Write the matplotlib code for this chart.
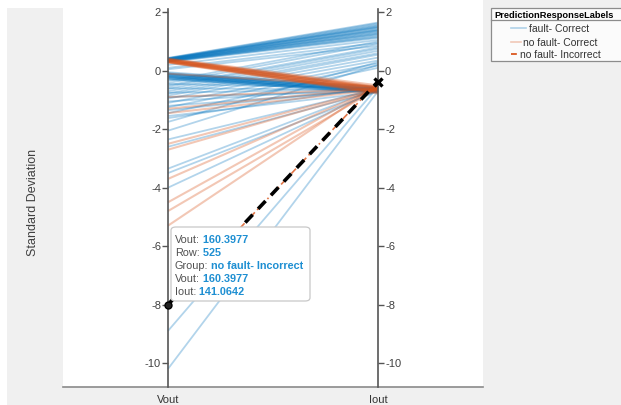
import matplotlib
matplotlib.use("Agg")
import matplotlib.pyplot as plt
from matplotlib.patches import Rectangle, FancyBboxPatch
from matplotlib.lines import Line2D
import matplotlib.transforms as mtrans

plt.rcParams['font.family'] = ['Liberation Sans', 'DejaVu Sans']

# ---------------- data ----------------
axis_names = ["Vout", "Iout"]
y_ticks = [2, 0, -2, -4, -6, -8, -10]

# fault- Correct (blue)
fault_correct_vout = [0.44, 0.43, 0.42, 0.41, 0.40, 0.40, 0.39, 0.38, 0.37, 0.36, 0.35, 0.34,
                      0.33, 0.32, 0.31, 0.30, 0.42, 0.38, 0.36, 0.34,
                      0.20, 0.10, 0.05, -0.35, -0.42, -0.50, -0.55, -0.62, -0.70, -0.78,
                      -0.85, -0.95, -1.10, -1.25, -1.45, -1.75, -2.05,
                      -0.05, -0.08, -0.10, -0.12, -0.14, -0.16, -0.18, -0.20, -0.22, -0.24,
                      -0.26, -0.28, -0.30, -0.12, -0.18, -0.22,
                      -0.45, -0.60, -0.75, -0.90, -1.05, -1.20, -1.35, -1.55, -1.62, -2.35,
                      -2.60, -3.35, -3.50, -4.00, -8.90, -10.20]
fault_correct_iout = [1.65, 1.62, 1.58, 1.55, 1.52, 1.50, 1.46, 1.42, 1.40, 1.36, 1.33, 1.30,
                      1.27, 1.22, 1.18, 1.12, 1.48, 1.38, 1.25, 1.15,
                      1.05, 0.95, 0.85, 1.00, 0.92, 0.80, 0.75, 0.68, 0.60, 0.55,
                      0.45, 0.35, 0.25, 0.18, 0.10, 0.30, 0.20,
                      -0.55, -0.58, -0.60, -0.62, -0.63, -0.65, -0.66, -0.68, -0.70, -0.70,
                      -0.72, -0.74, -0.75, -0.64, -0.69, -0.71,
                      -0.60, -0.65, -0.62, -0.70, -0.58, -0.66, -0.60, -0.72, -0.55, -0.62,
                      -0.68, -0.60, -0.70, -0.65, -0.55, -0.70]

# no fault- Correct (orange)
nofault_correct_vout = [0.42, 0.40, 0.38, 0.37, 0.36, 0.35, 0.34, 0.33, 0.32, 0.30, 0.29, 0.28,
                        0.39, 0.31,
                        -0.10, -0.90, -1.30, -1.45, -2.50, -2.70, -3.70, -4.50, -4.80, -5.30]
nofault_correct_iout = [-0.50, -0.55, -0.58, -0.60, -0.62, -0.64, -0.66, -0.68, -0.70, -0.72,
                        -0.75, -0.78, -0.57, -0.73,
                        -0.55, -0.62, -0.58, -0.65, -0.60, -0.63, -0.57, -0.52, -0.60, -0.48]

# no fault- Incorrect (selected row)
nofault_incorrect_vout = [-8.0]
nofault_incorrect_iout = [-0.37]

legend_title = "PredictionResponseLabels"
legend_labels = ["fault- Correct", "no fault- Correct", "no fault- Incorrect"]

tip_labels = ["Vout:", "Row:", "Group:", "Vout:", "Iout:"]
tip_values = ["160.3977", "525", "no fault- Incorrect", "160.3977", "141.0642"]

# ---------------- figure ----------------
W, H = 621, 406
fig = plt.figure(figsize=(W / 100, H / 100), dpi=100, facecolor="white")


def fx(px):
    return px / W


def fy(py):
    return 1 - py / H


grey = "#f0f0f0"
fig.add_artist(Rectangle((fx(7), 0), fx(63) - fx(7), fy(9), transform=fig.transFigure,
                         facecolor=grey, edgecolor="none", zorder=-2))
fig.add_artist(Rectangle((0, 0), 1, 18 / H, transform=fig.transFigure,
                         facecolor=grey, edgecolor="none", zorder=-2))
fig.add_artist(Rectangle((fx(483), 0), 1 - fx(483), 1, transform=fig.transFigure,
                         facecolor=grey, edgecolor="none", zorder=-2))
fig.add_artist(Rectangle((0, 0), fx(7), 1, transform=fig.transFigure,
                         facecolor="white", edgecolor="none", zorder=-1))

ax = fig.add_axes([fx(63), 18 / H, 420 / W, 388 / H])
ax.set_facecolor("white")
ax.set_xlim(0.5, 2.5)
ax.set_ylim(-10.82, 2.455)
for s in ["top", "left", "right"]:
    ax.spines[s].set_visible(False)
ax.spines["bottom"].set_color("#8a8a8a")
ax.spines["bottom"].set_linewidth(1.2)
ax.set_yticks([])
ax.set_xticks([1, 2])
ax.set_xticklabels(axis_names, fontsize=8, color="#333333")
ax.tick_params(axis="x", length=0, pad=5)

blue = "#0072BD"
orange = "#D95319"
xs = [1, 2]

for v, i in zip(fault_correct_vout, fault_correct_iout):
    ax.plot(xs, [v, i], color=blue, alpha=0.3, lw=1.3, solid_capstyle="butt", zorder=2)
for v, i in zip(nofault_correct_vout, nofault_correct_iout):
    ax.plot(xs, [v, i], color=orange, alpha=0.32, lw=1.5, solid_capstyle="butt", zorder=2)
for v, i in zip(nofault_incorrect_vout, nofault_incorrect_iout):
    ax.plot(xs, [v, i], color=orange, alpha=0.8, lw=1.2, ls=(0, (4, 2, 1, 2)), zorder=3)
    ax.plot(xs, [v, i], color="black", lw=2.6, ls=(0, (3, 2.2)), zorder=4)
    ax.plot([1], [v], marker="o", ms=5, mfc="#222222", mec="black", zorder=6, clip_on=False)
    ax.plot([2], [i], marker="x", ms=6, mew=2.4, color="black", zorder=6, clip_on=False)

axis_top = 2.11
for xv in xs:
    ax.plot([xv, xv], [-10.82, axis_top], color="#555555", lw=1.2, zorder=5, clip_on=False)

left_off = mtrans.offset_copy(ax.transData, fig=fig, x=-7, y=0, units="dots")
right_off = mtrans.offset_copy(ax.transData, fig=fig, x=7, y=0, units="dots")
for t in y_ticks:
    ax.plot([1], [t], marker=0, ms=4, mew=1.0, color="#555555", zorder=5)
    ax.plot([2], [t], marker=1, ms=4, mew=1.0, color="#555555", zorder=5)
    ax.text(1, t, str(t), transform=left_off, ha="right", va="center", fontsize=8, color="#404040")
    ax.text(2, t, str(t), transform=right_off, ha="left", va="center", fontsize=8, color="#404040")

fig.text(fx(33), fy(202), "Standard Deviation", rotation=90, ha="center", va="center",
         fontsize=9, color="#404040")

# ---------------- data tip ----------------
fig.add_artist(FancyBboxPatch((fx(171), fy(302)), fx(310) - fx(171), fy(228) - fy(302),
                              boxstyle="round,pad=0,rounding_size=0.008",
                              transform=fig.transFigure, facecolor="white",
                              edgecolor="#c8c8c8", lw=0.9, zorder=10))
tip_y = [240, 253, 266, 279, 292]
for lab, val, py in zip(tip_labels, tip_values, tip_y):
    t = fig.text(fx(175), fy(py), lab, ha="left", va="center", fontsize=7.8,
                 color="#505050", zorder=11)
    fig.add_artist(plt.Annotation(" " + val, xy=(1, 0.5), xycoords=t, va="center", ha="left",
                                  fontsize=7.8, color="#1e8fd2", fontweight="bold", zorder=11))

# ---------------- legend ----------------
fig.add_artist(Rectangle((fx(491), fy(62)), 1.2, fy(9) - fy(62), transform=fig.transFigure,
                         facecolor="#fbfbfb", edgecolor="#8c8c8c", lw=0.9, zorder=10))
fig.add_artist(Line2D([fx(491), 1], [fy(21), fy(21)], transform=fig.transFigure,
                      color="#8c8c8c", lw=0.9, zorder=11))
fig.text(fx(494), fy(15), legend_title, ha="left", va="center", fontsize=6.7,
         fontweight="bold", color="black", zorder=11)
leg_y = [29, 43, 55]
leg_line_end = [526, 521, 518]
leg_text_x = [529, 523, 520]
leg_styles = [dict(color=blue, alpha=0.3, lw=1.2), dict(color=orange, alpha=0.3, lw=1.2),
              dict(color=orange, alpha=0.9, lw=1.4, ls=(0, (3, 2, 1, 2)))]
for lab, py, xe, tx, st in zip(legend_labels, leg_y, leg_line_end, leg_text_x, leg_styles):
    fig.add_artist(Line2D([fx(511), fx(xe)], [fy(py), fy(py)], transform=fig.transFigure,
                          zorder=11, **st))
    fig.text(fx(tx), fy(py), lab, ha="left", va="center", fontsize=7.5, color="#333333",
             zorder=12)

fig.savefig("out.png", dpi=100, facecolor=fig.get_facecolor())
